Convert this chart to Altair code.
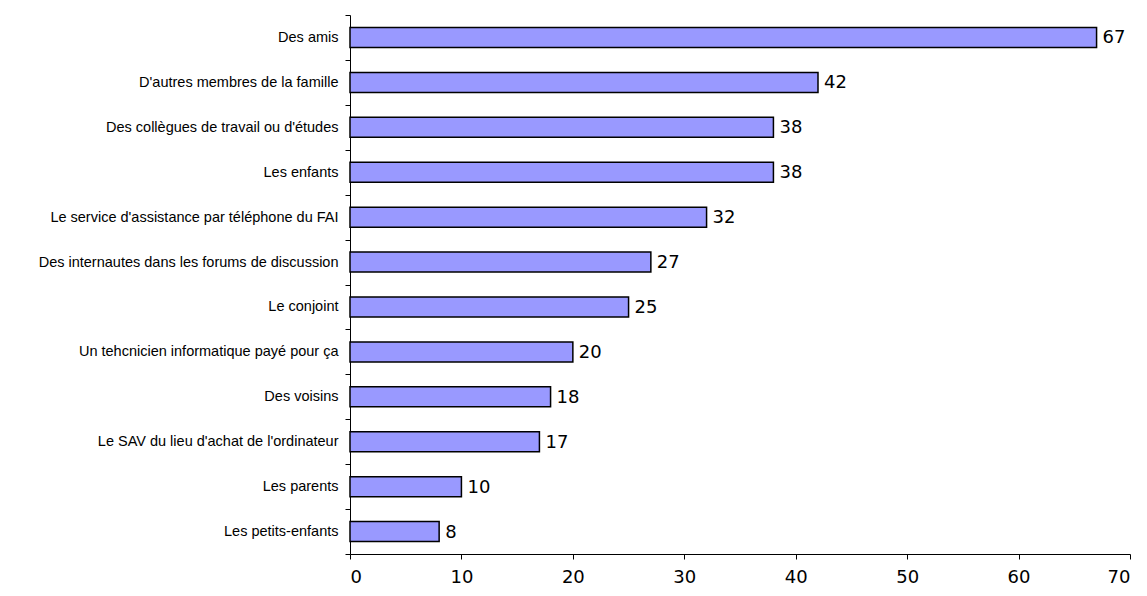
import altair as alt
import pandas as pd

categories = [
    "Des amis",
    "D'autres membres de la famille",
    "Des collègues de travail ou d'études",
    "Les enfants",
    "Le service d'assistance par téléphone du FAI",
    "Des internautes dans les forums de discussion",
    "Le conjoint",
    "Un tehcnicien informatique payé pour ça",
    "Des voisins",
    "Le SAV du lieu d'achat de l'ordinateur",
    "Les parents",
    "Les petits-enfants",
]
values = [67, 42, 38, 38, 32, 27, 25, 20, 18, 17, 10, 8]
x_ticks = [0, 10, 20, 30, 40, 50, 60, 70]

df = pd.DataFrame({"cat": categories, "val": values})

y_enc = alt.Y(
    "cat:N",
    sort=categories,
    title=None,
    scale=alt.Scale(paddingInner=0, paddingOuter=0),
    axis=alt.Axis(
        tickBand="extent",
        labelFont="Liberation Sans",
        labelFontSize=14.5,
        labelColor="black",
        labelPadding=7,
        tickSize=5,
        tickColor="black",
        domainColor="black",
        labelLimit=400,
    ),
)
x_enc = alt.X(
    "val:Q",
    title=None,
    scale=alt.Scale(domain=[0, 70], nice=False),
    axis=alt.Axis(
        values=x_ticks,
        grid=False,
        labelFont="DejaVu Sans",
        labelFontSize=18,
        labelColor="black",
        labelPadding=9,
        tickSize=5,
        tickColor="black",
        domainColor="black",
    ),
)

bars = alt.Chart(df).mark_bar(
    color="#9999FF", stroke="black", strokeWidth=1.5, size=20
).encode(x=x_enc, y=y_enc)

labels = alt.Chart(df).mark_text(
    align="left", baseline="middle", dx=6, dy=1,
    font="DejaVu Sans", fontSize=18, color="black"
).encode(x="val:Q", y=alt.Y("cat:N", sort=categories), text="val:Q")

chart = (
    (bars + labels)
    .properties(
        width=780,
        height=539,
        autosize=alt.AutoSizeParams(type="none"),
        padding={"left": 342, "top": 7, "right": 6, "bottom": 34},
    )
    .configure_view(stroke=None)
)

chart.save("out.html", embed_options={"renderer": "svg", "actions": False})
